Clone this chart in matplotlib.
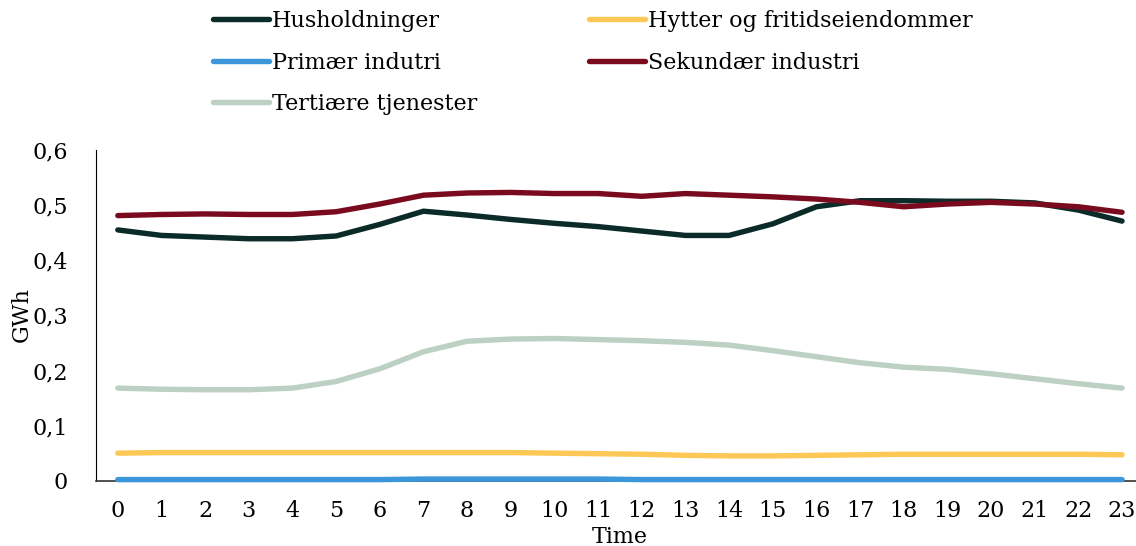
import numpy as np
import matplotlib
matplotlib.use("Agg")
import matplotlib.pyplot as plt
from matplotlib.ticker import FuncFormatter

plt.rcParams['font.family'] = ['DejaVu Serif']

hours = list(range(24))

husholdninger = [0.455, 0.445, 0.442, 0.439, 0.439, 0.444, 0.465, 0.489, 0.482, 0.474, 0.467, 0.461,
                 0.453, 0.445, 0.445, 0.466, 0.497, 0.508, 0.508, 0.507, 0.507, 0.504, 0.491, 0.471]
hytter = [0.050, 0.051, 0.051, 0.051, 0.051, 0.051, 0.051, 0.051, 0.051, 0.051, 0.050, 0.049,
          0.048, 0.046, 0.045, 0.045, 0.046, 0.047, 0.048, 0.048, 0.048, 0.048, 0.048, 0.047]
primaer = [0.002, 0.002, 0.002, 0.002, 0.002, 0.002, 0.002, 0.003, 0.003, 0.003, 0.003, 0.003,
           0.002, 0.002, 0.002, 0.002, 0.002, 0.002, 0.002, 0.002, 0.002, 0.002, 0.002, 0.002]
sekundaer = [0.481, 0.483, 0.484, 0.483, 0.483, 0.488, 0.502, 0.518, 0.522, 0.523, 0.521, 0.521,
             0.516, 0.521, 0.518, 0.515, 0.511, 0.505, 0.497, 0.502, 0.505, 0.502, 0.497, 0.487]
tertiaere = [0.168, 0.166, 0.165, 0.165, 0.168, 0.180, 0.203, 0.234, 0.253, 0.257, 0.258, 0.256,
             0.254, 0.251, 0.246, 0.236, 0.225, 0.214, 0.206, 0.202, 0.194, 0.185, 0.176, 0.168]

W, H = 1136, 546
FS = 16
fig = plt.figure(figsize=(W / 100, H / 100), dpi=100)
ax = fig.add_axes([96 / W, 1 - 480.7 / H, 1 - 96 / W, (480.7 - 150) / H])

lw = 3.9
kw = dict(lw=lw, solid_capstyle='round', solid_joinstyle='round', clip_on=False)
l_h, = ax.plot(hours, husholdninger, color='#0b2b29', label='Husholdninger', zorder=3, **kw)
l_hy, = ax.plot(hours, hytter, color='#fdc856', label='Hytter og fritidseiendommer', zorder=3, **kw)
l_p, = ax.plot(hours, primaer, color='#3b97d9', label='Primær indutri', zorder=5, **kw)
l_s, = ax.plot(hours, sekundaer, color='#7a0b1f', label='Sekundær industri', zorder=4, **kw)
l_t, = ax.plot(hours, tertiaere, color='#bdd0c4', label='Tertiære tjenester', zorder=3, **kw)

ax.set_xlim(-0.5, 23.32)
ax.set_ylim(0, 0.6)
ax.set_xticks(hours)
ax.set_yticks([0, 0.1, 0.2, 0.3, 0.4, 0.5, 0.6])
ax.yaxis.set_major_formatter(FuncFormatter(lambda v, p: '0' if v == 0 else ('%.1f' % v).replace('.', ',')))
ax.tick_params(length=0, labelsize=FS, colors='black')
ax.tick_params(axis='y', pad=20)
ax.tick_params(axis='x', pad=14)
for s in ['top', 'right']:
    ax.spines[s].set_visible(False)
ax.spines['left'].set_color('black')
ax.spines['bottom'].set_color('#333333')
ax.spines['bottom'].set_linewidth(1.2)

# axis titles placed directly so they stay inside the canvas
fig.text(620 / W, 1 - 537 / H, 'Time', fontsize=FS, ha='center', va='center')
fig.text(22 / W, 1 - 315 / H, 'GWh', fontsize=FS, ha='center', va='center', rotation=90)

fig.legend(handles=[l_h, l_p, l_t, l_hy, l_s], ncol=2, frameon=False, fontsize=FS,
           loc='upper left', bbox_to_anchor=(203 / W, 1.0), handlelength=2.5,
           handletextpad=0.15, labelspacing=0.88, columnspacing=5.05, borderaxespad=0.05)

fig.savefig('out.png', dpi=100)
